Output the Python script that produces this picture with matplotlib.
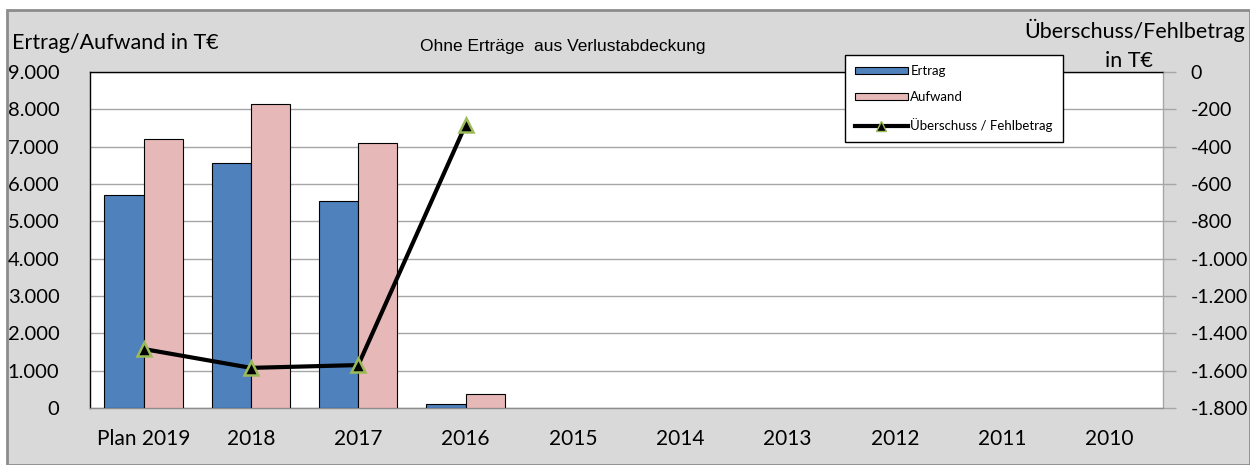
import matplotlib
matplotlib.use("Agg")
import matplotlib.pyplot as plt
from matplotlib.patches import Rectangle, Patch
from matplotlib.lines import Line2D
import numpy as np

categories = ["Plan 2019", "2018", "2017", "2016", "2015", "2014", "2013", "2012", "2011", "2010"]
ertrag = [5700, 6560, 5540, 110, 0, 0, 0, 0, 0, 0]
aufwand = [7200, 8150, 7100, 380, 0, 0, 0, 0, 0, 0]
saldo = [-1484, -1585, -1570, -284]
left_ticks = [0, 1000, 2000, 3000, 4000, 5000, 6000, 7000, 8000, 9000]
right_ticks = [0, -200, -400, -600, -800, -1000, -1200, -1400, -1600, -1800]

def de(v):
    s = f"{abs(v):,}".replace(",", ".")
    return ("-" if v < 0 else "") + s

FONT = "Lato"
plt.rcParams['font.family'] = [FONT, 'DejaVu Sans']

fig = plt.figure(figsize=(12.5, 4.65), dpi=100)
fig.patch.set_facecolor("white")
fig.patches.append(Rectangle((7/1250, 0), 1 - 7/1250, (465-10)/465, transform=fig.transFigure,
                             facecolor="#d9d9d9", edgecolor="#8c8c8c", linewidth=2, zorder=-5))

ax = fig.add_axes([90/1250, (465-408)/465, (1163-90)/1250, (408-72)/465])
ax.set_facecolor("white")
x = np.arange(len(categories))
w = 0.365
nz = [i for i in range(len(categories)) if ertrag[i] > 0 or aufwand[i] > 0]
ax.bar(x[nz] - w/2, [ertrag[i] for i in nz], width=w, color="#4F81BD", edgecolor="black", linewidth=0.8, zorder=3)
ax.bar(x[nz] + w/2, [aufwand[i] for i in nz], width=w, color="#E6B9B8", edgecolor="black", linewidth=0.8, zorder=3)
ax.set_xlim(-0.5, len(categories) - 0.5)
ax.set_ylim(0, 9000)
ax.set_yticks(left_ticks)
ax.set_yticklabels([de(v) for v in left_ticks], fontsize=14.5)
ax.set_xticks(x)
ax.set_xticklabels(categories, fontsize=15)
ax.tick_params(axis='x', length=0, pad=15)
ax.tick_params(axis='y', length=0, pad=22)
ax.grid(axis='y', color="#a6a6a6", linewidth=1, zorder=0)
ax.spines['top'].set_color("black")
ax.spines['left'].set_color("black")
ax.spines['right'].set_color("#a6a6a6")
ax.spines['bottom'].set_color("#8c8c8c")
for s in ax.spines.values():
    s.set_linewidth(1)

ax2 = ax.twinx()
ax2.set_ylim(-1800, 0)
ax2.set_yticks(right_ticks)
ax2.set_yticklabels([de(v) for v in right_ticks], fontsize=14)
ax2.tick_params(axis='y', length=9, width=1, color="#a6a6a6", pad=11)
ax2.plot(x[:len(saldo)], saldo, color="black", linewidth=3, marker="^", markersize=10,
         markerfacecolor="black", markeredgecolor="#9BBB59", markeredgewidth=1.8, zorder=5)
for s in ax2.spines.values():
    s.set_visible(False)

fig.text(12/1250, 1 - 43/465, "Ertrag/Aufwand in T€", fontsize=15.5, ha="left", va="center")
fig.text(1245/1250, 1 - 30/465, "Überschuss/Fehlbetrag", fontsize=15.5, ha="right", va="center")
fig.text(1153/1250, 1 - 61/465, "in T€", fontsize=15.5, ha="right", va="center")
fig.text(563/1250, 1 - 47/465, "Ohne Erträge  aus Verlustabdeckung", fontsize=12.5,
         family="Liberation Sans", ha="center", va="center")

handles = [Patch(facecolor="#4F81BD", edgecolor="black", linewidth=0.8),
           Patch(facecolor="#E6B9B8", edgecolor="black", linewidth=0.8),
           Line2D([0], [0], color="black", linewidth=3, marker="^", markersize=7,
                  markerfacecolor="black", markeredgecolor="#9BBB59")]
leg = fig.legend(handles, ["Ertrag", "Aufwand", "Überschuss / Fehlbetrag"],
                 loc="upper left", bbox_to_anchor=(845/1250, 1 - 55/465),
                 fontsize=9.5, frameon=True, fancybox=False, edgecolor="black", framealpha=1,
                 handlelength=4.0, handleheight=0.45, labelspacing=1.1, borderpad=0.75,
                 handletextpad=0.2, borderaxespad=0)
leg.get_frame().set_linewidth(1)
leg.set_zorder(10)

fig.savefig("out.png", dpi=100)
